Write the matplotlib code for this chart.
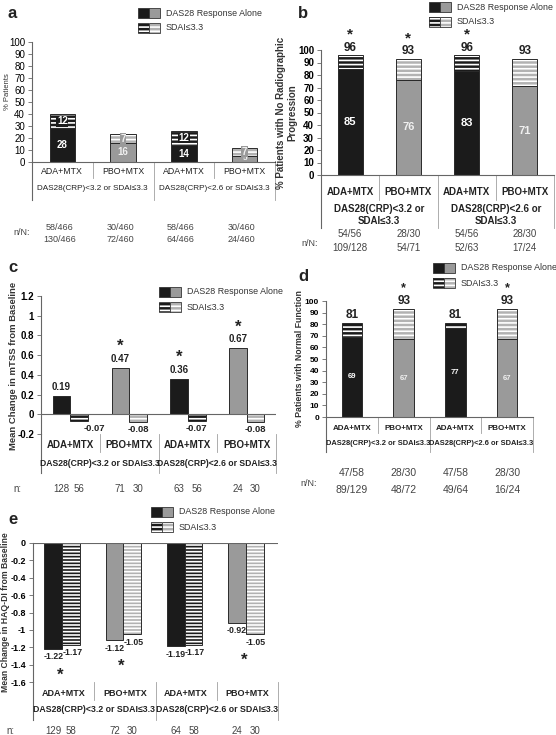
import matplotlib
matplotlib.use('Agg')
import matplotlib.pyplot as plt
from matplotlib.patches import Rectangle
import matplotlib.transforms as mtrans

# ---------------- data ----------------
cats = ['ADA+MTX', 'PBO+MTX', 'ADA+MTX', 'PBO+MTX']
groups = ['DAS28(CRP)<3.2 or SDAI≤3.3', 'DAS28(CRP)<2.6 or SDAI≤3.3']
groups_b = ['DAS28(CRP)<3.2 or\nSDAI≤3.3', 'DAS28(CRP)<2.6 or\nSDAI≤3.3']

a_das = [28, 16, 14, 5]
a_sdai = [12, 7, 12, 7]
a_n1 = ['58/466', '30/460', '58/466', '30/460']
a_n2 = ['130/466', '72/460', '64/466', '24/460']

b_das = [85, 76, 83, 71]
b_sdai = [11, 17, 13, 22]
b_total = [96, 93, 96, 93]
b_star = [True, True, True, False]
b_n1 = ['54/56', '28/30', '54/56', '28/30']
b_n2 = ['109/128', '54/71', '52/63', '17/24']

c_das = [0.19, 0.47, 0.36, 0.67]
c_sdai = [-0.07, -0.08, -0.07, -0.08]
c_star = [False, True, True, True]
c_n_das = [128, 71, 63, 24]
c_n_sdai = [56, 30, 56, 30]

d_das = [69, 67, 77, 67]
d_sdai = [12, 26, 4, 26]
d_total = [81, 93, 81, 93]
d_star = [False, True, False, True]
d_n1 = ['47/58', '28/30', '47/58', '28/30']
d_n2 = ['89/129', '48/72', '49/64', '16/24']

e_das = [-1.22, -1.12, -1.19, -0.92]
e_sdai = [-1.17, -1.05, -1.17, -1.05]
e_star = [True, True, False, True]
e_n_das = [129, 72, 64, 24]
e_n_sdai = [58, 30, 58, 30]

# ---------------- style ----------------
W, H = 556, 735
plt.rcParams['font.family'] = ['Liberation Sans', 'DejaVu Sans']
plt.rcParams['hatch.linewidth'] = 1.2

BLACK = '#1b1b1b'
GREY = '#9a9a9a'
cat_face = [BLACK, GREY, BLACK, GREY]
stripe_face = [BLACK, '#b2b2b2', BLACK, '#b2b2b2']
in_txt = ['white', '#f0f0f0', 'white', '#f0f0f0']
AXC = '#666666'
SEPC = '#a0a0a0'

fig = plt.figure(figsize=(W / 100, H / 100), dpi=100)


def fx(x):
    return x / W


def fy(y):
    return 1 - y / H


def make_ax(l, r, t, b, bottom_spine=True):
    ax = fig.add_axes([fx(l), fy(b), (r - l) / W, (b - t) / H])
    ax.set_xlim(-0.5, 3.5)
    ax.patch.set_alpha(0)
    for s in ['top', 'right']:
        ax.spines[s].set_visible(False)
    ax.spines['bottom'].set_visible(bottom_spine)
    for s in ['left', 'bottom']:
        ax.spines[s].set_color(AXC)
        ax.spines[s].set_linewidth(0.8)
    ax.set_xticks([])
    ax.tick_params(axis='y', length=3, width=0.6, color=AXC, pad=2)
    return ax


def striped_bar(ax, x, h, bottom, width, face, hatch):
    ax.bar(x, h, width, bottom=bottom, color=face, edgecolor='white',
           hatch=hatch, linewidth=0)
    ax.bar(x, h, width, bottom=bottom, fill=False, edgecolor='#2a2a2a',
           linewidth=0.7)


def solid_bar(ax, x, h, bottom, width, face):
    ax.bar(x, h, width, bottom=bottom, color=face, edgecolor='#2a2a2a',
           linewidth=0.7)


def xlabels(ax, b_px, y_cat, y_grp, y_short, y_long, fs_cat, fs_grp,
            w_cat='bold', w_grp='bold', grp=groups):
    tr = mtrans.blended_transform_factory(ax.transData, fig.transFigure)
    for i, c in enumerate(cats):
        ax.text(i, fy(y_cat), c, transform=tr, ha='center', va='center',
                fontsize=fs_cat, fontweight=w_cat, color='#222')
    for g, t in enumerate(grp):
        ax.text(2 * g + 0.5, fy(y_grp), t, transform=tr, ha='center',
                va='center', fontsize=fs_grp, fontweight=w_grp, color='#222',
                multialignment='center', linespacing=1.35)
    for xb in [-0.5, 0.5, 1.5, 2.5, 3.5]:
        long = xb in (-0.5, 1.5, 3.5)
        ax.plot([xb, xb], [fy(b_px), fy(y_long if long else y_short)],
                transform=tr, clip_on=False,
                color=AXC if xb == -0.5 else SEPC, lw=0.8 if xb == -0.5 else 0.6)
    return tr


def legend(x, y, fs=6.4):
    w, h, gap = 11, 10, 15
    for k, col in enumerate([BLACK, GREY]):
        fig.add_artist(Rectangle((fx(x + k * w), fy(y + h)), w / W, h / H,
                                 transform=fig.transFigure, facecolor=col,
                                 edgecolor='#333', lw=0.6))
        fig.add_artist(Rectangle((fx(x + k * w), fy(y + gap + h)), w / W, h / H,
                                 transform=fig.transFigure,
                                 facecolor=stripe_face[k], edgecolor='white',
                                 hatch='----', lw=0))
        fig.add_artist(Rectangle((fx(x + k * w), fy(y + gap + h)), w / W, h / H,
                                 transform=fig.transFigure, fill=False,
                                 edgecolor='#333', lw=0.6))
    fig.text(fx(x + 2 * w + 6), fy(y + h / 2), 'DAS28 Response Alone',
             fontsize=fs, va='center', ha='left', color='#333')
    fig.text(fx(x + 2 * w + 6), fy(y + gap + h / 2), 'SDAI≤3.3',
             fontsize=fs, va='center', ha='left', color='#333')


def panel_letter(x, y, s):
    fig.text(fx(x), fy(y), s, fontsize=12, fontweight='bold', ha='left',
             va='center', color='#222')


# ================= panel a =================
axa = make_ax(32, 275, 42, 162)
axa.set_ylim(0, 100)
axa.set_yticks(range(0, 101, 10))
axa.tick_params(axis='y', labelsize=7)
bw = 0.42
for i in range(4):
    solid_bar(axa, i, a_das[i], 0, bw, cat_face[i])
    striped_bar(axa, i, a_sdai[i], a_das[i], bw, stripe_face[i], '----')
    axa.text(i, a_das[i] / 2, str(a_das[i]), ha='center', va='center',
             fontsize=7 if a_das[i] > 8 else 6, fontweight='bold',
             color=in_txt[i])
    axa.text(i, a_das[i] + a_sdai[i] / 2, str(a_sdai[i]), ha='center',
             va='center', fontsize=7, fontweight='bold', color=in_txt[i],
             bbox=dict(boxstyle='square,pad=0.05', fc=cat_face[i], ec='none'))
fig.text(fx(8), fy(92), '% Patients', rotation=90, fontsize=5.5,
         ha='center', va='center', color='#333')
tra = xlabels(axa, 162, 172, 188, 178, 200, 6.3, 5.9, 'normal', 'normal')
for i in range(4):
    axa.text(i - 0.05, fy(227), a_n1[i], transform=tra, ha='center',
             va='center', fontsize=6.5, color='#444')
    axa.text(i - 0.05, fy(240), a_n2[i], transform=tra, ha='center',
             va='center', fontsize=6.5, color='#444')
fig.text(fx(22), fy(233), 'n/N:', fontsize=6.5, ha='center', va='center',
         color='#444')
legend(138, 8)
panel_letter(8, 14, 'a')

# ================= panel b =================
axb = make_ax(321, 554, 50, 175)
axb.set_ylim(0, 100)
axb.set_yticks(range(0, 101, 10))
axb.tick_params(axis='y', labelsize=7)
for lab in axb.get_yticklabels():
    lab.set_fontweight('bold')
bw = 0.43
for i in range(4):
    solid_bar(axb, i, b_das[i], 0, bw, cat_face[i])
    striped_bar(axb, i, b_sdai[i], b_das[i], bw, stripe_face[i], '----')
    axb.text(i, b_das[i] / 2, str(b_das[i]), ha='center', va='center',
             fontsize=8, fontweight='bold', color=in_txt[i])
    top = b_das[i] + b_sdai[i]
    axb.text(i, top + 1, str(b_total[i]), ha='center', va='bottom',
             fontsize=8.5, fontweight='bold', color='#222', clip_on=False)
    if b_star[i]:
        axb.text(i, top + 11, '*', ha='center', va='bottom', fontsize=11,
                 fontweight='bold', color='#222', clip_on=False)
fig.text(fx(287), fy(113), '% Patients with No Radiographic\nProgression',
         rotation=90, fontsize=7, fontweight='bold', ha='center',
         va='center', multialignment='center', color='#333', linespacing=1.15)
trb = xlabels(axb, 175, 192, 215, 200, 228, 7, 7, 'bold', 'bold', groups_b)
for i in range(4):
    axb.text(i, fy(234), b_n1[i], transform=trb, ha='center', va='center',
             fontsize=7, color='#444')
    axb.text(i, fy(248), b_n2[i], transform=trb, ha='center', va='center',
             fontsize=7, color='#444')
fig.text(fx(310), fy(243), 'n/N:', fontsize=6.5, ha='center', va='center',
         color='#444')
legend(429, 2)
panel_letter(298, 14, 'b')

# ================= panel c =================
axc = make_ax(41, 276, 296, 434, bottom_spine=False)
axc.set_ylim(-0.2, 1.2)
cticks = [-0.2, 0, 0.2, 0.4, 0.6, 0.8, 1.0, 1.2]
axc.set_yticks(cticks)
axc.set_yticklabels([f'{v:g}' for v in cticks], fontweight='bold')
axc.tick_params(axis='y', labelsize=7)
axc.axhline(0, color=AXC, lw=0.8)
bw = 0.3
c_lab_dx = [0.25, 0, 0, 0]
for i in range(4):
    solid_bar(axc, i - 0.15, c_das[i], 0, bw, cat_face[i])
    striped_bar(axc, i + 0.15, c_sdai[i], 0, bw, stripe_face[i], '----')
    axc.text(i - 0.15, c_das[i] + 0.04, f'{c_das[i]:.2f}', ha='center',
             va='bottom', fontsize=7, fontweight='bold', color='#222')
    if c_star[i]:
        axc.text(i - 0.15, c_das[i] + 0.14, '*', ha='center', va='bottom',
                 fontsize=12, fontweight='bold', color='#222')
    axc.text(i + 0.15 + c_lab_dx[i], c_sdai[i] - 0.03, f'{c_sdai[i]:.2f}',
             ha='center', va='top', fontsize=6.8, fontweight='bold', color='#222')
fig.text(fx(14), fy(366), 'Mean Change in mTSS from Baseline', rotation=90,
         fontsize=6.8, fontweight='bold', ha='center', va='center', color='#333')
trc = xlabels(axc, 434, 445, 463, 452, 473, 7, 6.2)
for i in range(4):
    axc.text(i - 0.15, fy(489), str(c_n_das[i]), transform=trc, ha='center',
             va='center', fontsize=7, color='#444')
    axc.text(i + 0.15, fy(489), str(c_n_sdai[i]), transform=trc, ha='center',
             va='center', fontsize=7, color='#444')
fig.text(fx(17), fy(489), 'n:', fontsize=7, ha='center', va='center',
         color='#444')
legend(159, 287)
panel_letter(8, 268, 'c')

# ================= panel d =================
axd = make_ax(326, 533, 301, 417)
axd.set_ylim(0, 100)
axd.set_yticks(range(0, 101, 10))
axd.tick_params(axis='y', labelsize=6)
for lab in axd.get_yticklabels():
    lab.set_fontweight('bold')
bw = 0.4
for i in range(4):
    solid_bar(axd, i, d_das[i], 0, bw, cat_face[i])
    striped_bar(axd, i, d_sdai[i], d_das[i], bw, stripe_face[i], '----')
    axd.text(i, d_das[i] / 2, str(d_das[i]), ha='center', va='center',
             fontsize=5.5, fontweight='bold', color=in_txt[i])
    top = d_das[i] + d_sdai[i]
    axd.text(i, top + 1.5, str(d_total[i]), ha='center', va='bottom',
             fontsize=8.5, fontweight='bold', color='#222', clip_on=False)
    if d_star[i]:
        axd.text(i, top + 13, '*', ha='center', va='bottom', fontsize=9,
                 fontweight='bold', color='#222', clip_on=False)
fig.text(fx(300), fy(359), '% Patients with Normal Function', rotation=90,
         fontsize=6.3, fontweight='bold', ha='center', va='center', color='#333')
trd = xlabels(axd, 417, 428, 443, 433, 452, 5.8, 5.4)
for i in range(4):
    axd.text(i, fy(473), d_n1[i], transform=trd, ha='center', va='center',
             fontsize=7.5, color='#444')
    axd.text(i, fy(490), d_n2[i], transform=trd, ha='center', va='center',
             fontsize=7.5, color='#444')
fig.text(fx(309), fy(483), 'n/N:', fontsize=6.5, ha='center', va='center',
         color='#444')
legend(433, 263)
panel_letter(298, 276, 'd')

# ================= panel e =================
axe = make_ax(33, 278, 543, 682, bottom_spine=False)
axe.set_ylim(-1.6, 0)
eticks = [0, -0.2, -0.4, -0.6, -0.8, -1.0, -1.2, -1.4, -1.6]
axe.set_yticks(eticks)
axe.set_yticklabels([f'{v:g}' for v in eticks], fontweight='bold')
axe.tick_params(axis='y', labelsize=6.5)
axe.axhline(0, color=AXC, lw=0.8)
bw = 0.29
for i in range(4):
    solid_bar(axe, i - 0.17, e_das[i], 0, bw, cat_face[i])
    striped_bar(axe, i + 0.12, e_sdai[i], 0, bw, stripe_face[i], '-----')
    axe.text(i - 0.17, e_das[i] - 0.09, f'{e_das[i]:.2f}', ha='center',
             va='center', fontsize=6.3, fontweight='bold', color='#222')
    axe.text(i + 0.14, e_sdai[i] - 0.09, f'{e_sdai[i]:.2f}', ha='center',
             va='center', fontsize=6.3, fontweight='bold', color='#222')
    if e_star[i]:
        axe.text(i - 0.06, min(e_das[i], e_sdai[i]) - 0.3, '*', ha='center',
                 va='center', fontsize=12, fontweight='bold', color='#222')
fig.text(fx(6), fy(612), 'Mean Change in HAQ-DI from Baseline', rotation=90,
         fontsize=6.2, fontweight='bold', ha='center', va='center', color='#333')
tre = xlabels(axe, 682, 694, 710, 700, 720, 6.5, 6.3)
for i in range(4):
    axe.text(i - 0.17, fy(731), str(e_n_das[i]), transform=tre, ha='center',
             va='center', fontsize=7, color='#444')
    axe.text(i + 0.12, fy(731), str(e_n_sdai[i]), transform=tre, ha='center',
             va='center', fontsize=7, color='#444')
fig.text(fx(10), fy(731), 'n:', fontsize=7, ha='center', va='center',
         color='#444')
legend(151, 507)
panel_letter(8, 519, 'e')

fig.savefig('out.png', dpi=100)
